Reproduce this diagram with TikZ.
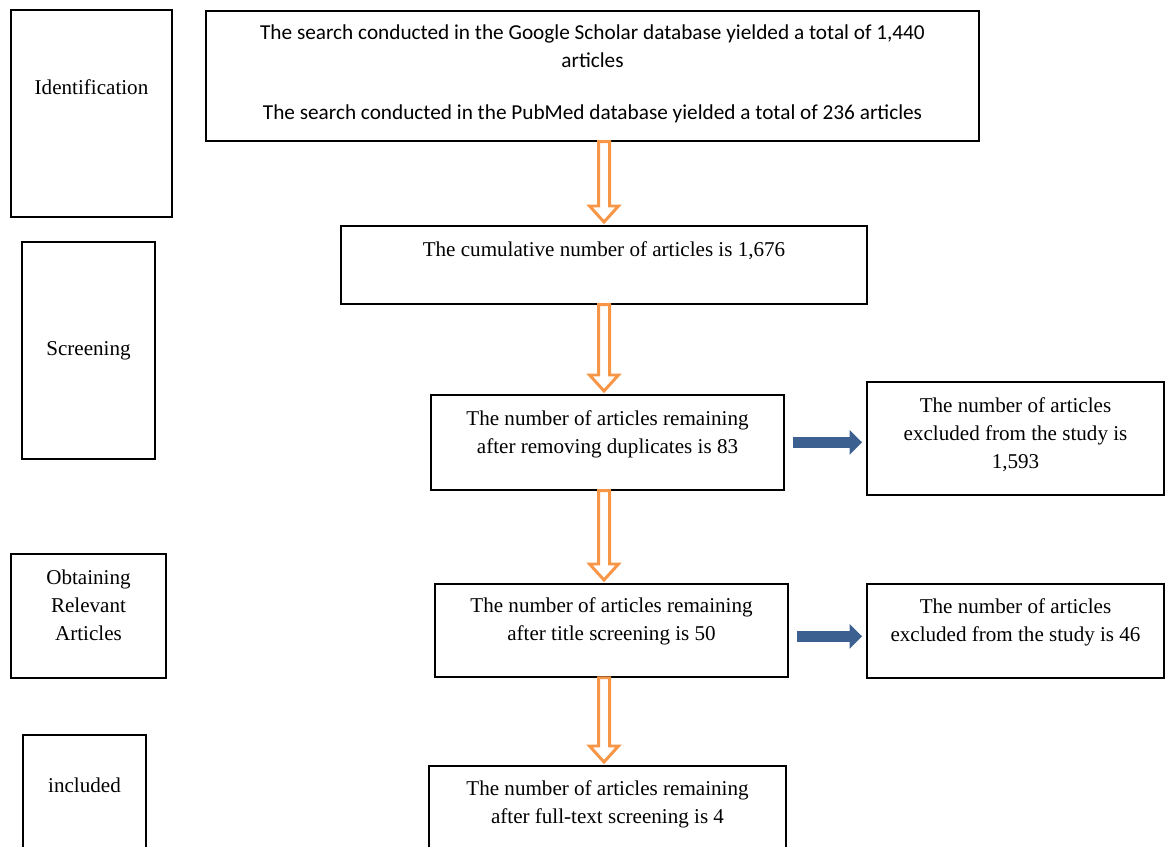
\documentclass[tikz,border=0pt]{standalone}
\usepackage{fontspec}
\setmainfont{Liberation Serif}
\newfontfamily\calibrifont{Carlito}
\usetikzlibrary{arrows.meta,calc}
\definecolor{flowline}{HTML}{F79646}
\definecolor{exclblue}{HTML}{3C6190}

\begin{document}
\begin{tikzpicture}[x=0.02cm,y=-0.02cm,
  box/.style={draw=black,line width=1pt,anchor=north,inner sep=0pt,align=center,font=\fontsize{12}{16}\selectfont},
  hollowarrow/.style={draw=flowline,line width=1.7pt,fill=white,line join=miter},
  exclarrow/.style={draw=exclblue,line width=0.23cm,shorten <=0.16cm,shorten >=0.08cm,-{Triangle[length=0.25cm,width=0.48cm]}}]
\useasboundingbox (0,0) rectangle (1165,847);
\clip (0,0) rectangle (1165,847);
% stages on the left
\node[box,minimum width=3.22cm,text height=1.7cm,text depth=2.44cm] (ident) at (91.5,9) {Identification};
\node[box,minimum width=2.66cm,text height=2.28cm,text depth=2.06cm] (screen) at (88.5,241) {Screening};
\node[box,minimum width=3.1cm,text height=1.73cm,text depth=0.75cm] (obtain) at (88.5,553) {Obtaining\\Relevant\\Articles};
\node[box,minimum width=2.46cm,text height=1.16cm,text depth=1.54cm] (incl) at (84.5,734) {included};
% main column
\node[box,minimum width=15.46cm,text height=2.18cm,text depth=0.42cm,font=\calibrifont\fontsize{12.1}{16}\selectfont] (search) at (592.5,10) {The search conducted in the Google Scholar database yielded a total of 1,440\\articles\\[0.48cm]The search conducted in the PubMed database yielded a total of 236 articles};
\node[box,minimum width=10.52cm,text height=0.62cm,text depth=0.94cm] (cum) at (604,225) {The cumulative number of articles is 1,676};
\node[box,minimum width=7.06cm,text height=1.18cm,text depth=0.72cm] (rem83) at (607.5,394) {The number of articles remaining\\after removing duplicates is 83};
\node[box,minimum width=7.06cm,text height=1.14cm,text depth=0.72cm] (rem50) at (611.5,583) {The number of articles remaining\\after title screening is 50};
\node[box,minimum width=7.14cm,text height=1.16cm,text depth=0.94cm] (rem4) at (607.5,765) {The number of articles remaining\\after full-text screening is 4};
% exclusions
\node[box,minimum width=5.94cm,text height=1.74cm,text depth=0.52cm] (excl1) at (1015.5,381) {The number of articles\\excluded from the study is\\1,593};
\node[box,minimum width=5.94cm,text height=1.16cm,text depth=0.72cm] (excl2) at (1015.5,583) {The number of articles\\excluded from the study is 46};
% arrows
\foreach \a/\b in {search/cum,cum/rem83,rem83/rem50,rem50/rem4}{
  \coordinate (tail) at (\a.south -| cum.north);
  \coordinate (tip) at ($(\b.north -| cum.north)+(0,-3)$);
  \draw[hollowarrow] ($(tail)+(-5.5,0)$) -- ($(tip)+(-5.5,-16)$) -- ($(tip)+(-14.5,-16)$) -- (tip) -- ($(tip)+(14.5,-16)$) -- ($(tip)+(5.5,-16)$) -- ($(tail)+(5.5,0)$) -- cycle;
}
\draw[exclarrow] (rem83.east) -- (rem83.east -| excl1.west);
\draw[exclarrow] ([yshift=-0.12cm]rem50.east) -- ([yshift=-0.12cm]rem50.east -| excl2.west);
\end{tikzpicture}
\end{document}
